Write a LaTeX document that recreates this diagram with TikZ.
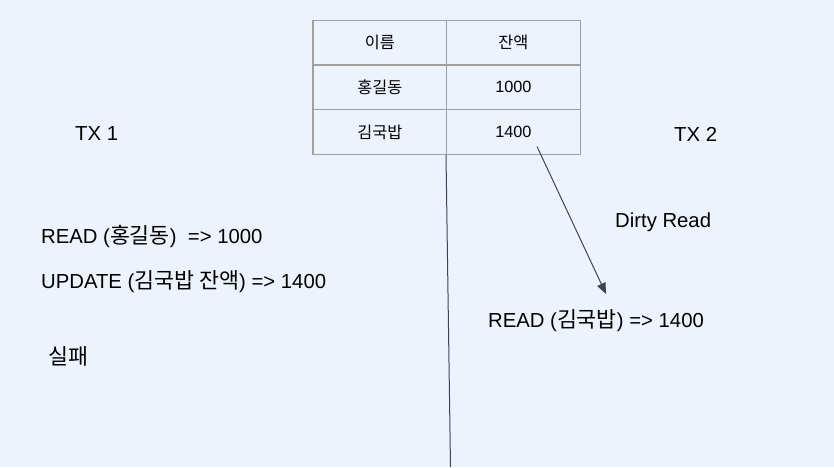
\documentclass[tikz,border=0pt]{standalone}
\usepackage{fontspec}
\usetikzlibrary{arrows.meta}
\setmainfont{Liberation Sans}
\newfontfamily\krt{Noto Sans CJK KR}
\newfontfamily\kr[Scale=1.07]{Noto Sans CJK KR}
\definecolor{bg}{HTML}{EDF3FD}
\definecolor{grid}{HTML}{A0A0A0}
\definecolor{ink}{HTML}{3A4656}
\tikzset{
  cell/.style={draw=grid, line width=1.2pt, minimum width=133.6pt, minimum height=44.7pt, inner sep=0pt, font=\fontsize{16.3}{19}\selectfont},
  lbl/.style={anchor=west, inner sep=0pt, font=\fontsize{20.3}{24}\selectfont},
  conn/.style={draw=ink, line width=1pt},
}
\begin{document}
\begin{tikzpicture}[x=1pt,y=-1pt]
\fill[bg] (0,0) rectangle (834,467);
\useasboundingbox (0,0) rectangle (834,467);
% table
\node[cell] (c11) at (379.8,42.8) {\krt 이름};
\node[cell] (c12) at (513.4,42.8) {\krt 잔액};
\node[cell] (c21) at (379.8,87.3) {\krt 홍길동};
\node[cell] (c22) at (513.4,87.3) {1000};
\node[cell] (c31) at (379.8,132) {\krt 김국밥};
\node[cell] (c32) at (513.4,132) {1400};
% labels
\node[lbl] (tx1) at (75,134) {TX 1};
\node[lbl] (tx2) at (674,134) {TX 2};
\node[lbl] (dirty) at (615,222) {Dirty Read};
\node[lbl] (r1) at (41,236) {READ ({\kr 홍길동})\ \ => 1000};
\node[lbl] (u1) at (41,282) {UPDATE ({\kr 김국밥 잔액}) => 1400};
\node[lbl] (fail) at (48,356) {\kr 실패};
\node[lbl] (r2) at (488,321) {READ ({\kr 김국밥}) => 1400};
% connectors
\coordinate (vend) at (450.5,467);
\draw[conn] (c32.south west) -- (vend);
\coordinate (astart) at (537,146.5);
\coordinate (aend) at (606,294);
\draw[conn, -{Triangle[length=11pt,width=9pt]}] (astart) -- (aend);
\end{tikzpicture}
\end{document}
